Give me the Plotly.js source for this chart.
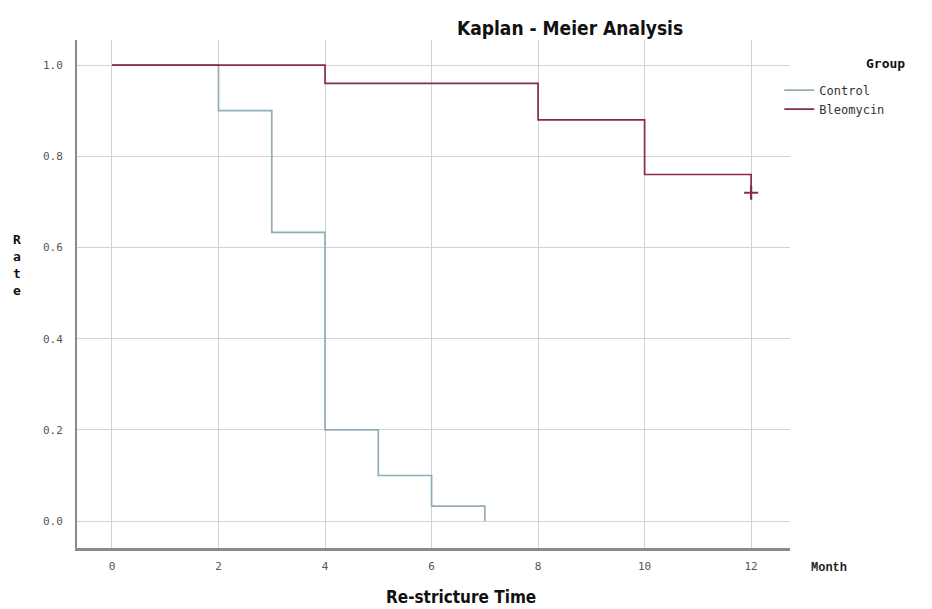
<!DOCTYPE html>
<html>
<head>
<meta charset="utf-8">
<script src="https://cdn.plot.ly/plotly-3.0.1.min.js"></script>
<style>html,body{margin:0;padding:0;background:#fff;}#chart{width:932px;height:609px;}</style>
</head>
<body>
<div id="chart"></div>
<script>
// Data
var groupNames = ["Control", "Bleomycin"];
var controlTime = [0, 2, 3, 4, 5, 6, 7];
var controlRate = [1.0, 0.9, 0.633, 0.2, 0.1, 0.033, 0.0];
var bleoTime = [0, 4, 8, 10, 12];
var bleoRate = [1.0, 0.96, 0.88, 0.76, 0.72];
var censorTime = [12];
var censorRate = [0.72];
var xTicks = [0, 2, 4, 6, 8, 10, 12];
var yTicks = [0.0, 0.2, 0.4, 0.6, 0.8, 1.0];
var yTickText = ["0.0", "0.2", "0.4", "0.6", "0.8", "1.0"];

var ctrlColor = "#90adb8";
var bleoColor = "#8a2a4a";
var monoFont = "DejaVu Sans Mono, Liberation Mono, monospace";
var narrowFont = "DejaVu Sans Condensed, Liberation Sans, sans-serif";

var traces = [
  {x: controlTime, y: controlRate, type: "scatter", mode: "lines", name: groupNames[0],
   line: {shape: "hv", color: ctrlColor, width: 1.7}},
  {x: bleoTime, y: bleoRate, type: "scatter", mode: "lines", name: groupNames[1],
   line: {shape: "hv", color: bleoColor, width: 1.7}},
  {x: censorTime, y: censorRate, type: "scatter", mode: "markers", showlegend: false,
   marker: {symbol: "cross-thin", size: 10, color: bleoColor, line: {color: bleoColor, width: 2.2}}}
];

var layout = {
  width: 932, height: 609,
  margin: {l: 77, r: 142, t: 40, b: 61},
  paper_bgcolor: "#fff", plot_bgcolor: "#fff",
  showlegend: true,
  legend: {x: 0.985, y: 0.93, xanchor: "left", yanchor: "top", bgcolor: "rgba(0,0,0,0)",
    font: {family: monoFont, size: 12, color: "#333"}, tracegroupgap: 0, itemwidth: 30},
  xaxis: {
    range: [-0.657, 12.73], tickvals: xTicks, ticktext: xTicks.map(String),
    showgrid: true, gridcolor: "#d2d2d2", gridwidth: 1, zeroline: false,
    showline: true, linecolor: "#8a8a8a", linewidth: 2.5,
    ticks: "", ticklabelstandoff: 6,
    tickfont: {family: monoFont, size: 11, color: "#555"}
  },
  yaxis: {
    range: [-0.059, 1.055], tickvals: yTicks, ticktext: yTickText,
    showgrid: true, gridcolor: "#d2d2d2", gridwidth: 1, zeroline: false,
    showline: true, linecolor: "#8a8a8a", linewidth: 2,
    ticks: "", ticklabelstandoff: 10,
    tickfont: {family: monoFont, size: 11, color: "#555"}
  },
  annotations: [
    {text: "<b>Kaplan - Meier Analysis</b>", xref: "paper", yref: "paper",
     x: (570 - 77) / 713, y: 1, yshift: 12, xanchor: "center", yanchor: "middle", showarrow: false,
     font: {family: narrowFont, size: 19, color: "#111"}},
    {text: "<b>Group</b>", xref: "paper", yref: "paper",
     x: (885 - 77) / 713, y: (548 - 63) / 508, xanchor: "center", yanchor: "middle", showarrow: false,
     font: {family: monoFont, size: 13, color: "#111"}},
    {text: "<b>R<br>a<br>t<br>e</b>", xref: "paper", yref: "paper",
     x: (17 - 77) / 713, y: (548 - 265) / 508, xanchor: "center", yanchor: "middle", showarrow: false,
     align: "center", font: {family: monoFont, size: 13, color: "#111"}},
    {text: "<b>Month</b>", xref: "paper", yref: "paper",
     x: (829 - 77) / 713, y: (548 - 568) / 508, xanchor: "center", yanchor: "middle", showarrow: false,
     font: {family: "Liberation Mono, DejaVu Sans Mono, monospace", size: 12, color: "#222"}},
    {text: "<b>Re-stricture Time</b>", xref: "paper", yref: "paper",
     x: (461 - 77) / 713, y: (548 - 597) / 508, xanchor: "center", yanchor: "middle", showarrow: false,
     font: {family: narrowFont, size: 17, color: "#111"}}
  ]
};

Plotly.newPlot("chart", traces, layout, {displayModeBar: false, staticPlot: true});
</script>
</body>
</html>
